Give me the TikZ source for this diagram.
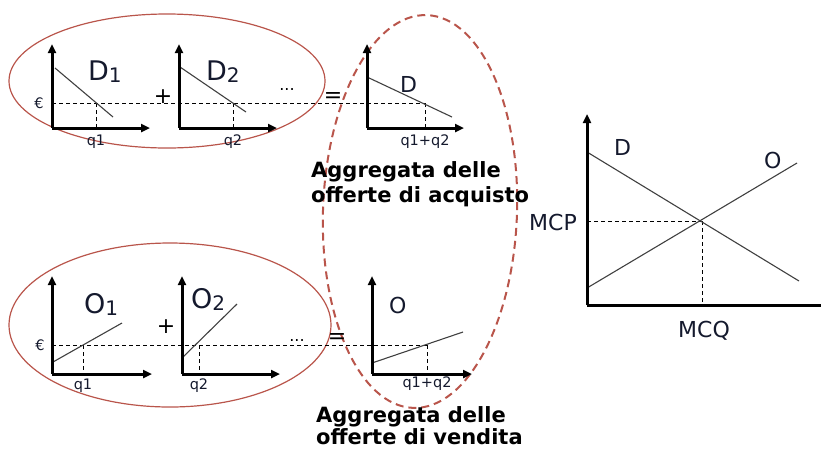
\documentclass[tikz,border=0pt]{standalone}
\usepackage{fontspec}
\setmainfont{DejaVu Sans}
\usetikzlibrary{arrows.meta}
\definecolor{ellred}{RGB}{185,85,75}
\definecolor{txtc}{RGB}{20,25,45}
\begin{document}
\begin{tikzpicture}[x=1pt,y=-1pt,
  axis/.style={line width=3pt,-{Triangle[length=9pt,width=8pt]}},
  curve/.style={line width=1.1pt,draw=black!75},
  guide/.style={line width=0.9pt,dash pattern=on 4pt off 3pt},
  oval/.style={draw=ellred,line width=1.2pt},
  dashoval/.style={draw=ellred,line width=2pt,dash pattern=on 8pt off 5pt},
  big/.style={font=\fontsize{27}{30}\selectfont,text=txtc,inner sep=0pt},
  mid/.style={font=\fontsize{22}{24}\selectfont,text=txtc,inner sep=0pt},
  small/.style={font=\fontsize{14.5}{16}\selectfont,text=txtc,inner sep=0pt},
  sym/.style={font=\fontsize{22}{24}\selectfont,text=black,inner sep=0pt},
  agg/.style={font=\bfseries\fontsize{21}{25}\selectfont,align=left,inner sep=0pt,anchor=north west}
]
\useasboundingbox (0,0) rectangle (821,451);
% ellipses
\draw[oval] (167,81) ellipse [x radius=158, y radius=67];
\draw[oval] (170,325) ellipse [x radius=161, y radius=82];
\draw[dashoval] (420,211.5) ellipse [x radius=97, y radius=196.5, rotate=-2];

% ---------- top row (demand) ----------
\draw[guide] (52,103) -- (425,103);
\draw[guide] (96,103) -- (96,128);
\draw[guide] (233,103) -- (233,128);
\draw[guide] (425,103) -- (425,128);
\draw[curve] (55,68) -- (113,117);
\draw[curve] (180,67) -- (246,112);
\draw[curve] (367,77) -- (452,117);
\draw[axis] (52,128) -- (52,44);
\draw[axis] (52,128) -- (150,128);
\draw[axis] (179,128) -- (179,44);
\draw[axis] (179,128) -- (277,128);
\draw[axis] (367,128) -- (367,44);
\draw[axis] (367,128) -- (464,128);
\node[small] (eur1) at (39,103) {€};
\node[small] (q1a) at (96,142) {q1};
\node[small] (q2a) at (233,142) {q2};
\node[small] (q12a) at (425,142) {q1+q2};
\node[big,anchor=base west] (d1) at (88,80) {D\raisebox{-2pt}{\fontsize{20}{21}\selectfont 1}};
\node[big,anchor=base west] (d2) at (206,80) {D\raisebox{-2pt}{\fontsize{20}{21}\selectfont 2}};
\node[mid,anchor=base west] (dagg) at (400,92) {D};
\node[sym] (plus1) at (163,97) {+};
\node[font=\fontsize{16}{18}\selectfont,inner sep=0pt] (dots1) at (287,90) {...};
\node[sym] (eq1) at (333,97) {=};
\node[agg] (aggd) at (311,161) {Aggregata delle\\offerte di acquisto};

% ---------- bottom row (supply) ----------
\draw[guide] (52,345) -- (427,345);
\draw[guide] (83,345) -- (83,374);
\draw[guide] (199,345) -- (199,374);
\draw[guide] (427,345) -- (427,374);
\draw[curve] (53,362) -- (122,323);
\draw[curve] (183,357) -- (237,304);
\draw[curve] (372,363) -- (463,332);
\draw[axis] (52,374) -- (52,276);
\draw[axis] (52,374) -- (152,374);
\draw[axis] (182,374) -- (182,276);
\draw[axis] (182,374) -- (280,374);
\draw[axis] (372,374) -- (372,276);
\draw[axis] (372,374) -- (472,374);
\node[small] (eur2) at (40,345) {€};
\node[small] (q1b) at (83,386) {q1};
\node[small] (q2b) at (199,386) {q2};
\node[small] (q12b) at (427,384) {q1+q2};
\node[big,anchor=base west] (o1) at (84,313) {O\raisebox{-2pt}{\fontsize{20}{21}\selectfont 1}};
\node[big,anchor=base west] (o2) at (191,308) {O\raisebox{-2pt}{\fontsize{20}{21}\selectfont 2}};
\node[mid,anchor=base west] (oagg) at (389,313) {O};
\node[sym] (plus2) at (166,327) {+};
\node[font=\fontsize{16}{18}\selectfont,inner sep=0pt] (dots2) at (297,340) {...};
\node[sym] (eq2) at (337,338) {=};
\node[agg,font=\bfseries\fontsize{21}{22.5}\selectfont] (aggo) at (316,406) {Aggregata delle\\offerte di vendita};

% ---------- market chart ----------
\draw[guide] (587,221) -- (702,221);
\draw[guide] (702,221) -- (702,305);
\draw[curve] (587,152) -- (799,281);
\draw[curve] (587,288) -- (797,163);
\draw[axis] (587,305) -- (587,114);
\draw[line width=3pt] (587,305) -- (821,305);
\node[mid,anchor=base west] (dm) at (614,155) {D};
\node[mid,anchor=base west] (om) at (764,168) {O};
\node[mid,anchor=east] (mcp) at (577,222) {MCP};
\node[mid] (mcq) at (704,331) {MCQ};
\end{tikzpicture}
\end{document}
